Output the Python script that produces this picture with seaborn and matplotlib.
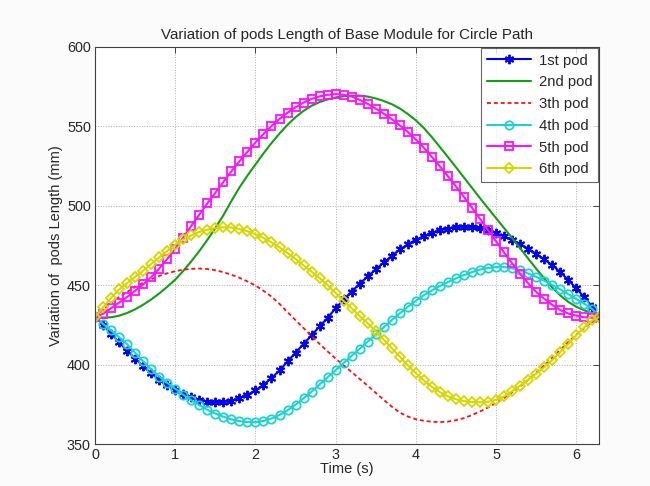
import numpy as np
import pandas as pd
import matplotlib
matplotlib.use("Agg")
import matplotlib.pyplot as plt
import seaborn as sns

# Time samples (s): 0, 0.1, ..., 6.2 and 2*pi
time = list(np.round(np.arange(0, 6.21, 0.1), 1)) + [2 * np.pi]

pod1 = [430, 425, 419.5, 414, 408.8, 403.8, 399, 394.5, 390.5, 387,
        384, 381.5, 379.3, 377.7, 376.7, 376.2, 376.3, 377.2, 379, 381,
        383.8, 387.3, 391.5, 396.3, 402, 407.5, 413, 418.5, 424, 429.5,
        435.5, 441, 446, 451, 455.5, 460, 464.3, 468.5, 472.5, 475.8,
        478.6, 481, 483, 484.6, 485.7, 486.5, 486.9, 486.6, 485.8, 484.7,
        482.8, 480.7, 478.6, 476, 473, 469.8, 466.3, 462.6, 458.3, 453.3,
        448, 442.5, 436.5, 430]

pod2 = [430, 429.6, 429.8, 430.8, 432.5, 434.8, 437.7, 441, 444.8, 449,
        453.5, 459, 465, 471.5, 478.5, 486, 494, 503, 511.5, 519,
        526, 533, 539.5, 545.5, 551, 555.8, 559.8, 563, 565.3, 567,
        568.2, 569, 569.4, 569.4, 568.8, 567.6, 566, 564, 561.3, 557.8,
        553.8, 549, 543.2, 537, 530.7, 524.3, 517.8, 511.3, 504.8, 498.5,
        492.2, 486, 479.7, 473.3, 466.8, 460.4, 454.3, 448.6, 443.6, 439.5,
        436.4, 434.2, 432.4, 430]

pod3 = [430, 434.5, 438.8, 442.5, 445.8, 448.8, 451.5, 453.8, 455.8, 457.5,
        458.8, 459.8, 460.3, 460.5, 460.2, 459.4, 458.2, 456.6, 454.7, 452.4,
        449.8, 446.5, 442.8, 438.2, 433, 428, 423, 418, 413, 408.3,
        403.8, 399.5, 395.3, 391, 386.7, 382.2, 377.8, 373.5, 369.8, 367.3,
        365.6, 364.6, 364, 363.8, 364.1, 365, 366.3, 368.2, 370.5, 373,
        375.8, 379, 382.5, 386.3, 390.4, 394.8, 399.5, 404.3, 409.3, 414.2,
        418.8, 423, 427, 430]

pod4 = [430, 425.6, 421.5, 417.3, 412.8, 407.5, 402, 397, 392.5, 388.5,
        384.8, 381, 377.6, 374.5, 371.6, 369.2, 367.2, 365.5, 364.4, 363.8,
        363.8, 364.5, 366, 368.3, 371.2, 374.8, 378.8, 383, 387.5, 392,
        396.5, 401, 405.6, 410, 414.5, 419, 423.5, 428, 432.3, 436.4,
        440.2, 443.7, 446.7, 449.5, 452, 454.3, 456.4, 458.2, 459.8, 460.9,
        461.4, 461.4, 460.7, 459.3, 457.4, 455.2, 452.8, 450.2, 447.4, 444.4,
        441.3, 438.3, 435, 430]

pod5 = [430, 432, 435.5, 439, 442.6, 446.5, 450.5, 455, 460.5, 466.5,
        473, 480, 487.3, 494.5, 501.5, 508.2, 515, 521.7, 528, 534,
        539.8, 545.2, 550.2, 554.6, 558.6, 562, 565, 567.3, 568.9, 569.9,
        570.3, 570, 568.8, 566.7, 564.2, 561.2, 558, 554.6, 550.7, 546.5,
        541.8, 536.5, 530.8, 524.8, 518.6, 512.2, 505.6, 498.8, 491.8, 484.7,
        477.6, 470.6, 463.8, 457.3, 451.2, 445.8, 441.5, 437.6, 434.4, 432.2,
        430.8, 429.8, 429.5, 430]

pod6 = [430, 436, 442, 447.3, 451.3, 455.2, 459.2, 463.3, 467.5, 471.6,
        475.5, 478.8, 481.4, 483.5, 485, 486, 486.5, 486.3, 485.4, 484,
        482.2, 479.8, 477, 473.8, 470.3, 466.5, 462.5, 458.5, 454.5, 450,
        445, 440, 435.5, 430.5, 426, 421, 415.6, 410.3, 405, 399.5,
        394.5, 390, 386, 382.7, 380, 378.2, 377, 376.4, 376.3, 376.6,
        377.8, 380, 383.2, 386.8, 390.5, 394.3, 398.3, 402.8, 407.8, 413,
        418.5, 423.5, 427.8, 430]

labels = ["1st pod", "2nd pod", "3th pod", "4th pod", "5th pod", "6th pod"]
series = [pod1, pod2, pod3, pod4, pod5, pod6]

df = pd.DataFrame({"Time": time * 6,
                   "Length": sum(series, []),
                   "Pod": sum([[lab] * len(time) for lab in labels], [])})

sns.set_theme(style="white")
plt.rcParams["font.family"] = ["Liberation Sans", "DejaVu Sans"]

fig = plt.figure(figsize=(6.5, 4.86), dpi=100, facecolor="#fbfbfb")
ax = fig.add_axes([0.1462, 0.0864, 0.9215 - 0.1462, 0.9033 - 0.0864])
ax.set_facecolor("white")

styles = {
    "1st pod": dict(color="#0000ff", marker=(6, 2, 0), ls="-", ms=6.8, lw=1.5, mew=1.4),
    "2nd pod": dict(color="#10a010", marker=None, ls="-", ms=0, lw=1.5, mew=0),
    "3th pod": dict(color="#ff1010", marker=None, ls=(0, (2.2, 1.6)), ms=0, lw=1.3, mew=0),
    "4th pod": dict(color="#1cd2d2", marker="o", ls="-", ms=6, lw=1.5, mew=1.3),
    "5th pod": dict(color="#ff10ff", marker="s", ls="-", ms=5.5, lw=1.5, mew=1.3),
    "6th pod": dict(color="#d6d600", marker="D", ls="-", ms=4.6, lw=1.5, mew=1.3),
}

for lab in labels:
    st = styles[lab]
    sub = df[df["Pod"] == lab]
    kw = dict(x="Time", y="Length", data=sub, ax=ax, color=st["color"],
              linewidth=st["lw"], label=lab, estimator=None, sort=False)
    line_kw = {}
    if st["marker"] is not None:
        line_kw = dict(marker=st["marker"], markersize=st["ms"],
                       markeredgewidth=st["mew"], markerfacecolor="none",
                       markeredgecolor=st["color"])
    sns.lineplot(**kw, **line_kw)
    ax.lines[-1].set_linestyle(st["ls"])

ax.set_xlim(0, 2 * np.pi)
ax.set_ylim(350, 600)
ax.set_xticks([0, 1, 2, 3, 4, 5, 6])
ax.set_yticks([350, 400, 450, 500, 550, 600])
ax.grid(True, linestyle=":", color="#b0b0b0", linewidth=0.7)
for s in ax.spines.values():
    s.set_color("#404040")
    s.set_linewidth(0.8)
ax.tick_params(direction="in", top=True, right=True, length=4, width=0.7,
               labelsize=10.4, color="#404040", pad=3)

ax.set_title("Variation of pods Length of Base Module for Circle Path",
             fontsize=10.9, pad=6)
ax.set_xlabel("Time (s)", fontsize=10.5, labelpad=0)
ax.set_ylabel("Variation of  pods Length (mm)", fontsize=10.5, labelpad=3)

leg = ax.legend(loc="upper right", fontsize=10.7, frameon=True, fancybox=False,
                edgecolor="#404040", handlelength=3.0, borderaxespad=0.05,
                labelspacing=0.52, handletextpad=0.5, borderpad=0.4)
leg.get_frame().set_linewidth(0.8)

fig.savefig("out.png", dpi=100, facecolor=fig.get_facecolor())
